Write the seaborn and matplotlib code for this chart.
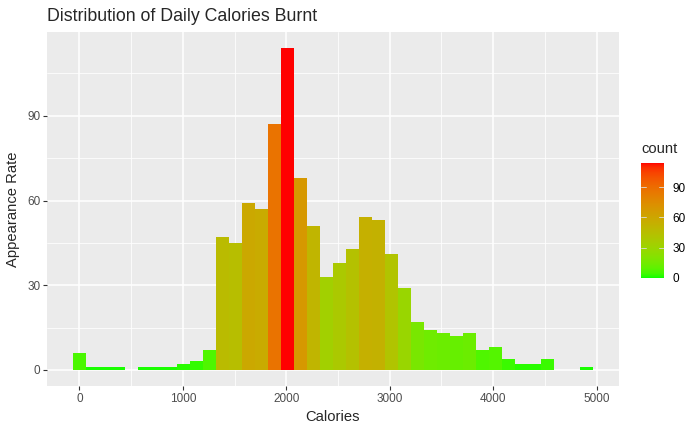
import numpy as np
import matplotlib
matplotlib.use("Agg")
import matplotlib.pyplot as plt
from matplotlib.colors import ListedColormap, Normalize
from matplotlib.cm import ScalarMappable
import seaborn as sb

# --- data (40 bins, first centred on 0) ------------------------------------
bin_width = 125.7
n_bins = 40
counts = [6, 1, 1, 1, 0, 1, 1, 1, 2, 3,
          7, 47, 45, 59, 57, 87, 114, 68, 51, 33,
          38, 43, 54, 53, 41, 29, 17, 14, 13, 12,
          13, 7, 8, 4, 2, 2, 4, 0, 0, 1]
bin_centers = np.arange(n_bins) * bin_width

x_ticks = [0, 1000, 2000, 3000, 4000, 5000]
y_ticks = [0, 30, 60, 90]
cbar_ticks = [0, 30, 60, 90]


# gradient green -> red interpolated in Lab (like ggplot scale_fill_gradient)
def rgb2lab(rgb):
    rgb = np.asarray(rgb, float)
    c = np.where(rgb <= 0.04045, rgb / 12.92, ((rgb + 0.055) / 1.055) ** 2.4)
    M = np.array([[0.4124, 0.3576, 0.1805], [0.2126, 0.7152, 0.0722], [0.0193, 0.1192, 0.9505]])
    xyz = M @ c / np.array([0.95047, 1.0, 1.08883])
    f = np.where(xyz > 0.008856, np.cbrt(xyz), 7.787 * xyz + 16 / 116)
    return np.array([116 * f[1] - 16, 500 * (f[0] - f[1]), 200 * (f[1] - f[2])])


def lab2rgb(lab):
    L, a, b = lab
    fy = (L + 16) / 116
    fx = fy + a / 500
    fz = fy - b / 200
    f = np.array([fx, fy, fz])
    xyz = np.where(f ** 3 > 0.008856, f ** 3, (f - 16 / 116) / 7.787)
    xyz = xyz * np.array([0.95047, 1.0, 1.08883])
    Minv = np.linalg.inv(np.array([[0.4124, 0.3576, 0.1805], [0.2126, 0.7152, 0.0722], [0.0193, 0.1192, 0.9505]]))
    c = np.clip(Minv @ xyz, 0, 1)
    rgb = np.where(c <= 0.0031308, 12.92 * c, 1.055 * c ** (1 / 2.4) - 0.055)
    return np.clip(rgb, 0, 1)


lo = rgb2lab([0, 1, 0])
hi = rgb2lab([1, 0, 0])
cmap = ListedColormap([lab2rgb(lo + t * (hi - lo)) for t in np.linspace(0, 1, 256)])
norm = Normalize(vmin=0, vmax=max(counts))

# --- plot -------------------------------------------------------------------
sb.set_theme(style="darkgrid", rc={
    "axes.facecolor": "#EBEBEB",
    "grid.color": "white",
    "axes.edgecolor": "#EBEBEB",
})
plt.rcParams['font.family'] = ['Liberation Sans', 'DejaVu Sans']

fig = plt.figure(figsize=(7, 4.32), dpi=100)
ax = fig.add_axes([47 / 700, (432 - 386) / 432, 572 / 700, 354 / 432])

sb.histplot(x=bin_centers, weights=counts, binwidth=bin_width,
            binrange=(-bin_width / 2, bin_centers[-1] + bin_width / 2),
            ax=ax, edgecolor="none", linewidth=0, alpha=1)
for patch, h in zip(ax.patches, counts):
    patch.set_facecolor(cmap(norm(h)))

ax.set_xlim(-314, 5217)
ax.set_ylim(-5.7, 119.7)
ax.set_xticks(x_ticks)
ax.set_yticks(y_ticks)
ax.set_xticks([500, 1500, 2500, 3500, 4500], minor=True)
ax.set_yticks([15, 45, 75, 105], minor=True)
ax.grid(which="major", color="white", linewidth=1.1)
ax.grid(which="minor", color="white", linewidth=0.55)
ax.tick_params(which="major", length=2.75, width=0.8, color="#333333",
               labelsize=8.5, labelcolor="#4D4D4D", pad=2, bottom=True, left=True)
ax.tick_params(which="minor", length=0)
for s in ax.spines.values():
    s.set_visible(False)
ax.set_xlabel("Calories", fontsize=10.6, labelpad=4)
ax.set_ylabel("Appearance Rate", fontsize=10.6, labelpad=5)

fig.text(47 / 700, (432 - 21) / 432, "Distribution of Daily Calories Burnt",
         fontsize=12.8, ha="left", va="baseline")

# colour bar legend
cax = fig.add_axes([641 / 700, (432 - 278) / 432, 23 / 700, 115 / 432])
cb = fig.colorbar(ScalarMappable(norm=norm, cmap=cmap), cax=cax, ticks=cbar_ticks)
cb.outline.set_visible(False)
cax.tick_params(length=0, labelsize=8.5, labelcolor="black", pad=6)
for t in cbar_ticks:
    cax.plot([0, 0.2], [t, t], color="#DDDDDD", lw=0.6, transform=cax.get_yaxis_transform())
    cax.plot([0.8, 1], [t, t], color="#DDDDDD", lw=0.6, transform=cax.get_yaxis_transform())
cax.grid(False)
fig.text(641 / 700, (432 - 153) / 432, "count", fontsize=10.6, ha="left", va="baseline")

plt.savefig("out.png", dpi=100)
